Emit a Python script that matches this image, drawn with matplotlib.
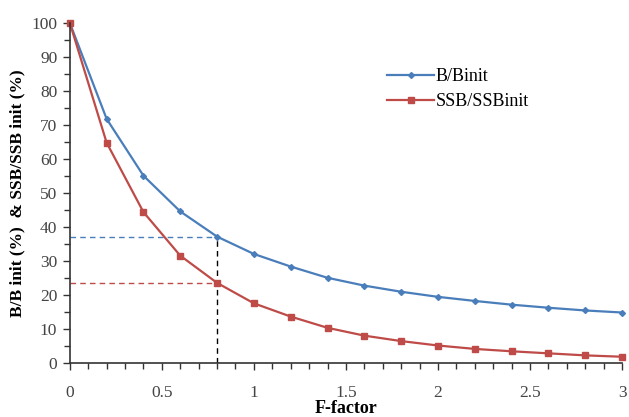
import matplotlib
matplotlib.use("Agg")
import matplotlib.pyplot as plt
from matplotlib.ticker import MultipleLocator

f_factor = [0, 0.2, 0.4, 0.6, 0.8, 1.0, 1.2, 1.4, 1.6, 1.8, 2.0, 2.2, 2.4, 2.6, 2.8, 3.0]
b_binit = [100, 71.8, 55.1, 44.6, 37.2, 32.1, 28.4, 25.1, 22.8, 21.0, 19.5, 18.3, 17.2, 16.3, 15.5, 14.9]
ssb_ssbinit = [100, 64.8, 44.4, 31.6, 23.6, 17.6, 13.7, 10.4, 8.1, 6.5, 5.2, 4.2, 3.5, 2.9, 2.3, 1.9]
x_ticks = [0, 0.5, 1, 1.5, 2, 2.5, 3]
x_tick_labels = ['0', '0.5', '1', '1.5', '2', '2.5', '3']
ref_f = 0.8
ref_b = 37.2
ref_ssb = 23.6

plt.rcParams['font.family'] = ['Liberation Serif', 'DejaVu Serif']

fig = plt.figure(figsize=(6.29, 4.17), dpi=100)
ax = fig.add_axes([0.111, 0.129, 0.878, 0.816])

blue = '#4A7EBB'
red = '#BE4B48'

ax.plot([0, ref_f], [ref_b, ref_b], ls=(0, (4, 3)), color=blue, lw=1.0)
ax.plot([0, ref_f], [ref_ssb, ref_ssb], ls=(0, (4, 3)), color=red, lw=1.0)
ax.plot([ref_f, ref_f], [0, ref_b], ls=(0, (4, 3)), color='black', lw=1.0)

ax.plot(f_factor, b_binit, color=blue, lw=1.6, marker='D', ms=3, label='B/Binit', clip_on=False)
ax.plot(f_factor, ssb_ssbinit, color=red, lw=1.6, marker='s', ms=4.5, label='SSB/SSBinit', clip_on=False)

ax.set_xlim(0, 3)
ax.set_ylim(0, 100)
ax.xaxis.set_minor_locator(MultipleLocator(0.1))
ax.yaxis.set_major_locator(MultipleLocator(10))
ax.yaxis.set_minor_locator(MultipleLocator(5))
ax.set_xticks(x_ticks)
ax.set_xticklabels(x_tick_labels)

for s in ['top', 'right']:
    ax.spines[s].set_visible(False)
for s in ['left', 'bottom']:
    ax.spines[s].set_linewidth(1.2)
    ax.spines[s].set_color('#333333')

ax.tick_params(axis='both', which='major', direction='out', length=5, width=1.0, labelsize=12.5, colors='#333333', labelcolor='#444444')
ax.tick_params(axis='both', which='minor', direction='out', length=4, width=1.0, colors='#333333')
ax.tick_params(axis='x', pad=11)
ax.tick_params(axis='y', pad=4)

ax.set_xlabel('F-factor', fontsize=13, fontweight='bold', labelpad=-1)
ax.set_ylabel('B/B init (%)  & SSB/SSB init (%)', fontsize=12.5, fontweight='bold', labelpad=4)

ax.legend(loc='upper left', bbox_to_anchor=(0.545, 0.915), frameon=False, fontsize=13,
          handlelength=2.6, labelspacing=0.45, handletextpad=0.1)

fig.savefig('out.png', dpi=100)
